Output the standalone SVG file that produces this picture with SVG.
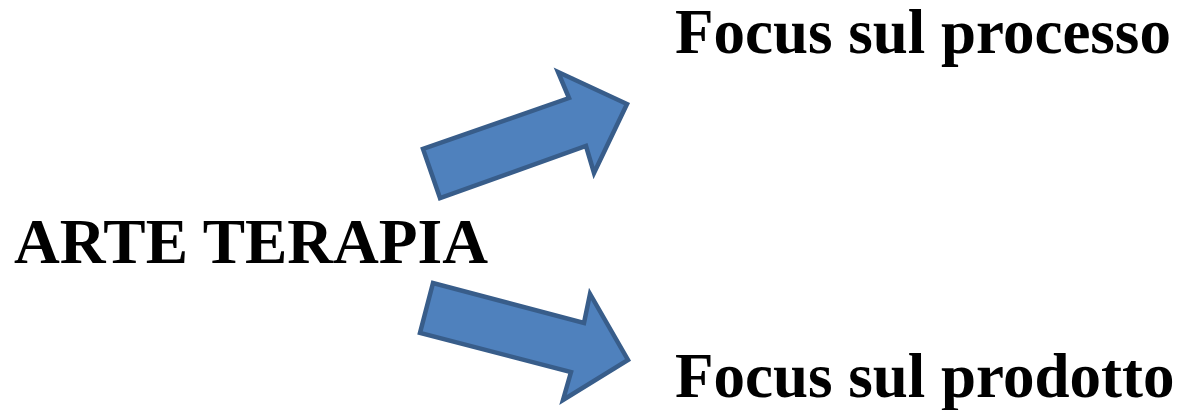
<svg xmlns="http://www.w3.org/2000/svg" width="1184" height="410" viewBox="0 0 1184 410">
<style>
.t{font-family:"Liberation Serif","Times New Roman",serif;font-weight:bold;font-size:63px;fill:#000}
.arr{fill:#4F81BD;stroke:#385D8A;stroke-width:4.5;stroke-linejoin:miter}
</style>
<rect width="1184" height="410" fill="#fff"/>
<g id="arte-terapia"><text class="t" x="14" y="263" textLength="474" lengthAdjust="spacingAndGlyphs">ARTE TERAPIA</text></g>
<g id="processo"><text class="t" x="675" y="53">Focus sul processo</text></g>
<g id="prodotto"><text class="t" x="675" y="397">Focus sul prodotto</text></g>
<g id="connectors">
<polygon class="arr" points="440,198 423,149 569,98 558,72 627,104 594,173 586,146"/>
<polygon class="arr" points="433,283 420,333 571,372 563,400 628,360 590,294 584,323"/>
</g>
</svg>
